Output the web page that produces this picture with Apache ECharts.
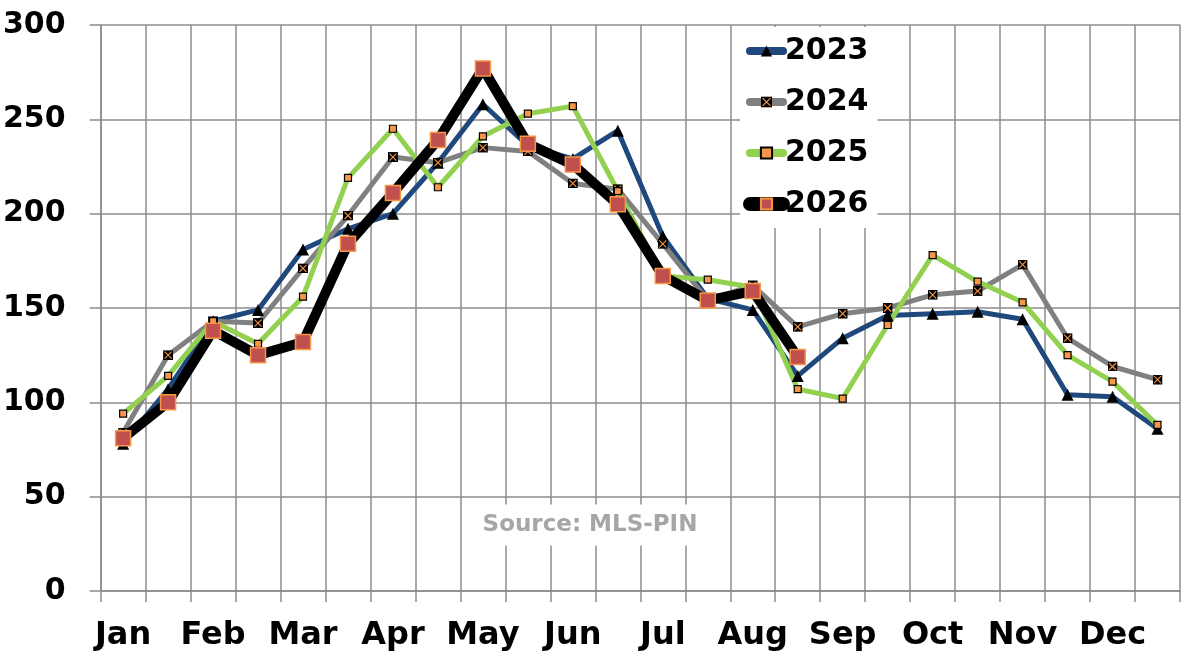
<!DOCTYPE html>
<html>
<head>
<meta charset="utf-8">
<script src="https://cdn.jsdelivr.net/npm/echarts@6/dist/echarts.min.js"></script>
<style>
  html, body { margin: 0; padding: 0; background: #fff; }
  #chart { width: 1197px; height: 659px; }
</style>
</head>
<body>
<div id="chart"></div>
<script>
// two readings a month, first and second half
const months = ['Jan', 'Feb', 'Mar', 'Apr', 'May', 'Jun', 'Jul', 'Aug', 'Sep', 'Oct', 'Nov', 'Dec'];
const halves = months.flatMap(m => [m + '-1', m + '-2']);

const yTicks = [0, 50, 100, 150, 200, 250, 300];

const y2023 = [78, 107, 143, 149, 181, 192, 200, 227, 258, 236, 229, 244,
               188, 155, 149, 114, 134, 146, 147, 148, 144, 104, 103, 86];
const y2024 = [84, 125, 143, 142, 171, 199, 230, 227, 235, 233, 216, 213,
               184, 154, 162, 140, 147, 150, 157, 159, 173, 134, 119, 112];
const y2025 = [94, 114, 143, 131, 156, 219, 245, 214, 241, 253, 257, 212,
               167, 165, 161, 107, 102, 141, 178, 164, 153, 125, 111, 88];
const y2026 = [81, 100, 138, 125, 132, 184, 211, 239, 277, 237, 226, 205,
               167, 154, 159, 124];

const FONT = 'DejaVu Sans';
const GRID = '#8c8c8c';

// black square with orange cross, like the 2024 marker
const xMark = 'image://data:image/svg+xml;charset=utf-8,' + encodeURIComponent(
  "<svg xmlns='http://www.w3.org/2000/svg' width='20' height='20'>" +
  "<rect width='20' height='20' fill='#000'/>" +
  "<path d='M3,3L17,17M17,3L3,17' stroke='#f79646' stroke-width='2.2'/></svg>");

const chart = echarts.init(document.getElementById('chart'));

chart.setOption({
  animation: false,
  textStyle: { fontFamily: FONT },
  grid: { left: 100, right: 17, top: 25, bottom: 68 },
  legend: {
    orient: 'vertical',
    left: 740,
    top: 27,
    padding: [6, 9, 6, 3],
    backgroundColor: '#fff',
    itemWidth: 33,
    itemHeight: 14,
    itemGap: 15,
    textStyle: { fontSize: 30, fontWeight: 'bold', color: '#000', lineHeight: 36, padding: [0, 0, 0, -3] },
    data: [
      { name: '2023', lineStyle: { width: 8, cap: 'round' } },
      { name: '2024', lineStyle: { width: 8, cap: 'round' } },
      { name: '2025', lineStyle: { width: 8, cap: 'round' } },
      { name: '2026', lineStyle: { width: 14, cap: 'round' } }
    ]
  },
  graphic: [{
    type: 'text',
    x: 590,
    y: 525,
    z: 100,
    style: {
      text: 'Source: MLS-PIN',
      fill: '#a6a6a6',
      font: 'bold 23px "DejaVu Sans"',
      align: 'center',
      verticalAlign: 'middle',
      backgroundColor: '#fff',
      padding: [9, 14, 9, 14]
    }
  }],
  xAxis: {
    type: 'category',
    data: halves,
    boundaryGap: true,
    axisLine: { lineStyle: { color: GRID, width: 1.5 } },
    axisTick: { show: true, interval: 0, length: 11, lineStyle: { color: GRID, width: 1.5 } },
    splitLine: { show: true, interval: 0, lineStyle: { color: GRID, width: 1.5 } },
    axisLabel: {
      interval: 0,
      margin: 29,
      fontSize: 32,
      fontWeight: 'bold',
      color: '#000',
      formatter: (v, i) => (i % 2 === 0 ? months[i / 2] : '')
    }
  },
  yAxis: {
    type: 'value',
    min: yTicks[0],
    max: yTicks[yTicks.length - 1],
    interval: 50,
    axisLine: { show: true, lineStyle: { color: GRID, width: 1.5 } },
    axisTick: { show: true, length: 11, lineStyle: { color: GRID, width: 1.5 } },
    splitLine: { show: true, lineStyle: { color: GRID, width: 1.5 } },
    axisLabel: { margin: 35, fontSize: 30, fontWeight: 'bold', color: '#000' }
  },
  series: [
    {
      name: '2023', type: 'line', data: y2023,
      symbol: 'triangle', symbolSize: 12,
      lineStyle: { color: '#1f497d', width: 5, join: 'round', cap: 'round' },
      itemStyle: { color: '#000', borderWidth: 0 }
    },
    {
      name: '2024', type: 'line', data: y2024,
      symbol: xMark, symbolSize: 10,
      lineStyle: { color: '#808080', width: 5, join: 'round', cap: 'round' },
      itemStyle: { color: '#000' }
    },
    {
      name: '2025', type: 'line', data: y2025,
      symbol: 'rect', symbolSize: 7,
      lineStyle: { color: '#92d050', width: 5, join: 'round', cap: 'round' },
      itemStyle: { color: '#f79646', borderColor: '#000', borderWidth: 1.2 }
    },
    {
      name: '2026', type: 'line', data: y2026,
      symbol: 'rect', symbolSize: 15,
      lineStyle: { color: '#000', width: 10, join: 'round', cap: 'round' },
      itemStyle: { color: '#c0504d', borderColor: '#f79646', borderWidth: 1.5 }
    }
  ]
});
</script>
</body>
</html>
